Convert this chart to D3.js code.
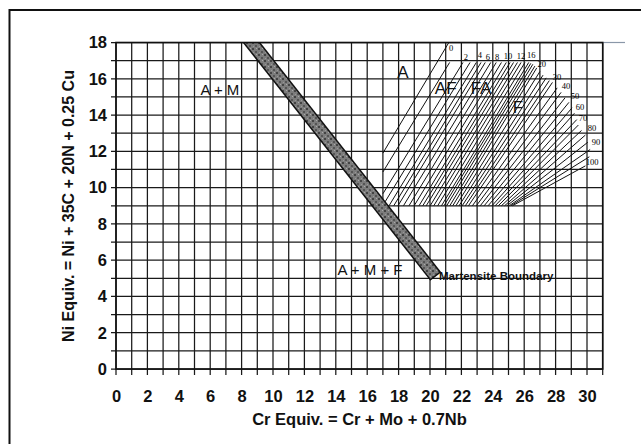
<!DOCTYPE html>
<html><head><meta charset="utf-8">
<script src="https://cdn.jsdelivr.net/npm/d3@7/dist/d3.min.js"></script>
<style>body{margin:0;background:#fff}svg{display:block}</style>
</head><body>
<svg id="chart" width="641" height="444"></svg>
<script>
// ---------- data ----------
const xTicks = [0,2,4,6,8,10,12,14,16,18,20,22,24,26,28,30];
const yTicks = [0,2,4,6,8,10,12,14,16,18];
const xTitle = "Cr Equiv. = Cr + Mo + 0.7Nb";
const yTitle = "Ni Equiv. = Ni + 35C + 20N + 0.25 Cu";
// martensite boundary band: centre line (Cr, Ni)
const martensiteLine = [[8.63,18],[20.37,5.1]];
const martensiteLabel = ["Martensite Boundary", 20.57, 5.13];
// ferrite-number iso lines: [FN, Cr start, Ni start, Cr end, Ni end]
const fnLines = [
  [0,17,11.9,21.2,18],
  [1,17,10.86,21.25,16.9],
  [2,17,9.66,22.1,16.9],
  [3,17,9.02,22.55,16.9],
  [4,17.39,9,22.95,16.9],
  [5,17.69,9,23.25,16.9],
  [6,17.96,9,23.52,16.9],
  [7,18.31,9,23.87,16.9],
  [8,18.66,9,24.22,16.9],
  [9,18.99,9,24.55,16.9],
  [10,19.30,9,24.86,16.9],
  [11,19.54,9,25.1,16.9],
  [12,19.76,9,25.32,16.9],
  [13,20.01,9,25.57,16.9],
  [14,20.24,9,25.8,16.9],
  [15,20.49,9,26.05,16.9],
  [16,20.73,9,26.29,16.9],
  [17,20.89,9,26.42,16.85],
  [18,21.06,9,26.55,16.8],
  [19,21.26,9,26.68,16.7],
  [20,21.45,9,26.8,16.6],
  [22,21.65,9,27.0,16.4],
  [24,21.85,9,27.2,16.2],
  [26,22.05,9,27.4,16.05],
  [28,22.25,9,27.6,15.9],
  [30,22.45,9,27.8,15.8],
  [35,22.7,9,28.1,15.5],
  [40,22.95,9,28.35,15.25],
  [45,23.2,9,28.6,14.95],
  [50,23.45,9,28.85,14.7],
  [55,23.7,9,29.05,14.4],
  [60,23.95,9,29.2,14.1],
  [65,24.15,9,29.35,13.75],
  [70,24.35,9,29.45,13.45],
  [75,24.55,9,29.65,13.15],
  [80,24.75,9,29.9,12.9],
  [85,24.9,9,30.05,12.5],
  [90,25.05,9,30.2,12.1],
  [95,25.15,9,30.15,11.7],
  [100,25.25,9,29.9,11.2]
];
// FN labels: [text, Cr, Ni]
const fnLabels = [
  ["0",21.35,17.7],["2",22.29,17.2],["4",23.18,17.31],["6",23.69,17.2],
  ["8",24.27,17.2],["10",24.97,17.26],["12",25.8,17.26],["16",26.45,17.33],
  ["20",27.12,16.82],["30",28.09,16.1],["40",28.66,15.6],["50",29.24,15.05],
  ["60",29.55,14.44],["70",29.75,13.84],["80",30.32,13.29],["90",30.57,12.52],
  ["100",30.32,11.42]
];
// phase-region labels: [text, Cr, Ni]
const regionLabels = [
  ["A + M",6.62,15.38],["A",18.28,16.37],["AF",21.0,15.5],["FA",23.25,15.5],
  ["F",25.6,14.44],["A + M + F",16.18,5.46]
];

// ---------- drawing ----------
const svg = d3.select("#chart");
const x = d3.scaleLinear().domain([0,31]).range([116,602.7]);
const y = d3.scaleLinear().domain([0,18]).range([369,42.5]);
const sans = "'Liberation Sans', Arial, sans-serif";

svg.append("rect").attr("width",641).attr("height",444).attr("fill","#fff");
// outer frame (top + left edges)
svg.append("path").attr("d","M9.5,444 V10 H641").attr("fill","none")
   .attr("stroke","#111").attr("stroke-width",2);

const defs = svg.append("defs");
defs.append("clipPath").attr("id","plotClip").append("rect")
  .attr("x",x(0)).attr("y",y(18)).attr("width",x(31)-x(0)).attr("height",y(0)-y(18));
const pat = defs.append("pattern").attr("id","tone").attr("patternUnits","userSpaceOnUse")
  .attr("width",6).attr("height",6);
pat.append("rect").attr("width",6).attr("height",6).attr("fill","#7c7c7c");
pat.append("rect").attr("x",0).attr("y",0).attr("width",2).attr("height",2).attr("fill","#444");
pat.append("rect").attr("x",3).attr("y",3).attr("width",2).attr("height",2).attr("fill","#555");
pat.append("rect").attr("x",4).attr("y",0).attr("width",1).attr("height",1).attr("fill","#aaa");
pat.append("rect").attr("x",1).attr("y",4).attr("width",1).attr("height",1).attr("fill","#999");

// grid
const g = svg.append("g");
g.selectAll("line.v").data(d3.range(0,32)).join("line")
  .attr("x1",d=>x(d)).attr("x2",d=>x(d)).attr("y1",y(18)).attr("y2",y(0)+6)
  .attr("stroke","#1a1a1a").attr("stroke-width",1.25);
g.selectAll("line.h").data(d3.range(0,19)).join("line")
  .attr("x1",x(0)-5).attr("x2",x(31)).attr("y1",d=>y(d)).attr("y2",d=>y(d))
  .attr("stroke","#1a1a1a").attr("stroke-width",1.25);
// top line extending past plot
svg.append("line").attr("x1",x(31)).attr("x2",625).attr("y1",y(18)).attr("y2",y(18))
  .attr("stroke","#8a97a8").attr("stroke-width",1.2);

// FN lines
const fnG = svg.append("g").attr("clip-path","url(#plotClip)");
fnG.selectAll("line").data(fnLines).join("line")
  .attr("x1",d=>x(d[1])).attr("y1",d=>y(d[2])).attr("x2",d=>x(d[3])).attr("y2",d=>y(d[4]))
  .attr("stroke","#111").attr("stroke-width",1);

// martensite band
const p1 = [x(martensiteLine[0][0]), y(martensiteLine[0][1])];
const p2 = [x(martensiteLine[1][0]), y(martensiteLine[1][1])];
const dx = p2[0]-p1[0], dy = p2[1]-p1[1], L = Math.hypot(dx,dy);
const ext = [p1[0]-dx/L*20, p1[1]-dy/L*20];
const bandG = svg.append("g").attr("clip-path","url(#plotClip)");
bandG.append("line").attr("x1",ext[0]).attr("y1",ext[1]).attr("x2",p2[0]).attr("y2",p2[1])
  .attr("stroke","#111").attr("stroke-width",14).attr("stroke-linecap","butt");
const ex2 = [p2[0]-dx/L*1.5, p2[1]-dy/L*1.5];
bandG.append("line").attr("x1",ext[0]).attr("y1",ext[1]).attr("x2",ex2[0]).attr("y2",ex2[1])
  .attr("stroke","url(#tone)").attr("stroke-width",11).attr("stroke-linecap","butt");

// plot border
svg.append("rect").attr("x",x(0)).attr("y",y(18)).attr("width",x(31)-x(0)).attr("height",y(0)-y(18))
  .attr("fill","none").attr("stroke","#111").attr("stroke-width",1.6);

// axes labels
const xAxis = svg.append("g").attr("transform",`translate(0,${y(0)})`)
  .call(d3.axisBottom(x).tickValues(xTicks).tickSize(0).tickPadding(21).tickFormat(d3.format("d")));
xAxis.select(".domain").remove();
xAxis.selectAll("text").attr("font-family",sans).attr("font-size",16.5).attr("font-weight","bold").attr("fill","#111");
const yAxis = svg.append("g").attr("transform",`translate(${x(0)},0)`)
  .call(d3.axisLeft(y).tickValues(yTicks).tickSize(0).tickPadding(9).tickFormat(d3.format("d")));
yAxis.select(".domain").remove();
yAxis.selectAll("text").attr("font-family",sans).attr("font-size",16.5).attr("font-weight","bold").attr("fill","#111");

svg.append("text").attr("x",359.5).attr("y",425).attr("text-anchor","middle")
  .attr("font-family",sans).attr("font-size",16.5).attr("font-weight","bold").attr("fill","#111").text(xTitle);
svg.append("text").attr("transform","translate(74,206) rotate(-90)").attr("text-anchor","middle")
  .attr("font-family",sans).attr("font-size",16).attr("font-weight","bold").attr("fill","#111").text(yTitle);

// region labels
svg.selectAll("text.region").data(regionLabels).join("text").attr("class","region")
  .attr("x",d=>x(d[1])).attr("y",d=>y(d[2])).attr("dy","0.36em").attr("text-anchor","middle")
  .attr("font-family",sans).attr("font-size",d=>d[0].length<=2?17:15).attr("fill","#111").text(d=>d[0]);

// FN labels
svg.selectAll("text.fn").data(fnLabels).join("text").attr("class","fn")
  .attr("x",d=>x(d[1])).attr("y",d=>y(d[2])).attr("dy","0.36em").attr("text-anchor","middle")
  .attr("font-family","'Liberation Serif', 'Times New Roman', serif")
  .attr("font-size",8.5).attr("fill","#000").text(d=>d[0]);

// martensite label
svg.append("text").attr("x",x(martensiteLabel[1])).attr("y",y(martensiteLabel[2])).attr("dy","0.36em")
  .attr("font-family",sans).attr("font-size",11.5).attr("font-weight","bold").attr("fill","#111")
  .text(martensiteLabel[0]);
</script>
</body></html>
